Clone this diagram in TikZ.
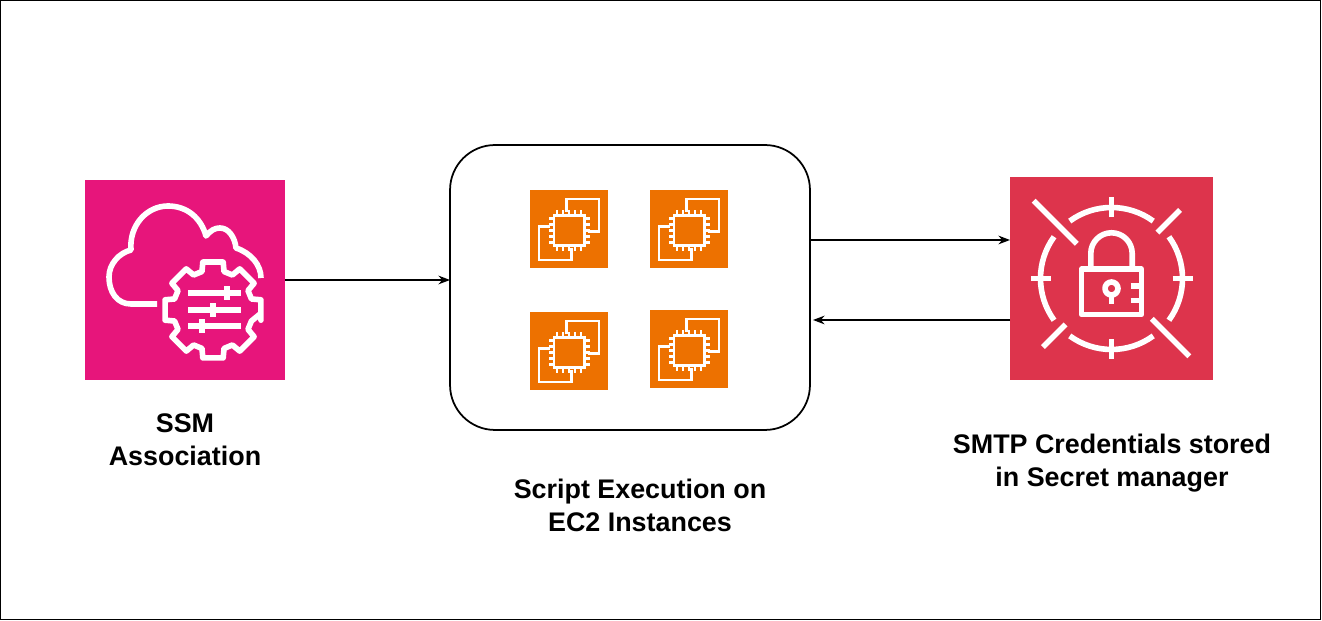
\documentclass[tikz,border=0pt]{standalone}
\usepackage{fontspec}
\setmainfont{Liberation Sans}
\usetikzlibrary{arrows.meta}

\definecolor{ssmpink}{HTML}{E7157B}
\definecolor{secretred}{HTML}{DD344C}
\definecolor{ec2orange}{HTML}{ED7100}

\tikzset{
  tile/.style={inner sep=0pt, outer sep=0pt, minimum size=#1},
  caption/.style={align=center, font=\fontsize{15.3}{18.7}\selectfont\bfseries},
  glyph/.style={draw=white, line width=3.2pt, line cap=butt, line join=round},
  thinglyph/.style={draw=white, line width=1.5pt, line join=miter},
  link/.style={line width=0.8pt, ->},
  pics/ssmicon/.style={code={
    \draw [glyph] (-28,-24) -- (-54,-24) .. controls (-68,-24) and (-76,-12) .. (-76,3)
      .. controls (-76,16) and (-66,27) .. (-54,30)
      .. controls (-56,55) and (-38,74) .. (-17,74)
      .. controls (2,74) and (16,62) .. (21,44)
      .. controls (26,50) and (30,52) .. (35,52)
      .. controls (44,52) and (50,42) .. (51,32)
      .. controls (66,27) and (76,15) .. (76,2);
    \begin{scope}[shift={(28,-30)}]
      \draw [glyph] (-4:48) \foreach \a in {0,45,...,315} {
        -- (\a-12:49) -- (\a+12:49) -- (\a+16:40) -- (\a+29:40) } -- cycle;
      \draw [glyph] (-25,17) -- (28,17);
      \draw [glyph] (-25,0) -- (28,0);
      \draw [glyph] (-25,-16) -- (28,-16);
      \draw [glyph] (14,10) -- (14,24);
      \draw [glyph] (0,-7) -- (0,7);
      \draw [glyph] (-11,-23) -- (-11,-9);
    \end{scope}
  }},
  pics/secreticon/.style={code={
    \foreach \a in {0,90,180,270} {
      \draw [glyph] (\a+36:71) arc [start angle=\a+36, end angle=\a-36, radius=71];
      \draw [glyph] (\a:61) -- (\a:81);
    }
    \draw [glyph] (135:49) -- (135:110);
    \draw [glyph] (-45:57) -- (-45:110);
    \draw [glyph] (45:65) -- (45:97);
    \draw [glyph] (225:65) -- (225:97);
    \draw [glyph] (-30,9.3) rectangle (30,-36);
    \draw [glyph] (-20.7,9.3) -- (-20.7,25) arc [start angle=180, end angle=0, radius=20.7] -- (20.7,9.3);
    \draw [glyph] (0,-10) circle [radius=6.5];
    \draw [glyph] (0,-16.5) -- (0,-26);
    \draw [glyph] (19,-7.5) -- (30,-7.5);
    \draw [glyph] (19,-22) -- (30,-22);
  }},
  pics/ec2icon/.style={code={
    \draw [thinglyph] (-2.3,17.3) -- (-2.3,30) -- (30,30) -- (30,-2.7) -- (19,-2.7);
    \draw [thinglyph] (-19,2.3) -- (-30,2.3) -- (-30,-31) -- (2.7,-31) -- (2.7,-19.3);
    \draw [thinglyph] (-15,-16.5) rectangle (15.5,13.5);
    \foreach \p in {-12,-6,0,6,12} {
      \draw [thinglyph] (\p,13.5) -- (\p,19);
      \draw [thinglyph] (\p,-16.5) -- (\p,-22);
      \draw [thinglyph] (15.5,\p-1.5) -- (21,\p-1.5);
      \draw [thinglyph] (-15,\p-1.5) -- (-20.5,\p-1.5);
    }
  }},
}

\begin{document}
\begin{tikzpicture}[x=0.02cm, y=0.02cm, >=Stealth]

\useasboundingbox (0,0) rectangle (1322,621);
\draw [line width=0.6pt] (0.8,1.8) rectangle (1320.5,620.2);

% left tile
\node [tile=4cm, fill=ssmpink] (ssm) at (185,341) {};
\pic at (ssm.center) {ssmicon};
\node [caption] (ssmtext) at (185,181) {SSM\\Association};

% instances
\node [draw, line width=1pt, rounded corners=0.9cm, inner sep=0pt, outer sep=0pt,
  minimum width=7.2cm, minimum height=5.7cm] (box) at (630,333.5) {};
\node [tile=1.56cm, fill=ec2orange] (ec2a) at (569,392) {};
\node [tile=1.56cm, fill=ec2orange] (ec2b) at (689,392) {};
\node [tile=1.56cm, fill=ec2orange] (ec2c) at (569,270) {};
\node [tile=1.56cm, fill=ec2orange] (ec2d) at (689,272) {};
\foreach \n in {ec2a,ec2b,ec2c,ec2d} {
  \pic at (\n.center) {ec2icon};
}
\node [caption] (boxtext) at (640,116) {Script Execution on\\EC2 Instances};

% right tile
\node [tile=4.06cm, fill=secretred] (secret) at (1111.5,342.5) {};
\pic at (secret.center) {secreticon};
\node [caption] (secrettext) at (1112,158) {SMTP Credentials stored\\in Secret manager};

% arrows
\coordinate (credup) at (1010,381);
\coordinate (credback) at (1010,301);
\coordinate (boxback) at (813,301);
\draw [link] (ssm.east) -- (box.west |- ssm.east);
\draw [link] (box.east |- credup) -- (credup);
\draw [link] (credback) -- (boxback);

\end{tikzpicture}
\end{document}
